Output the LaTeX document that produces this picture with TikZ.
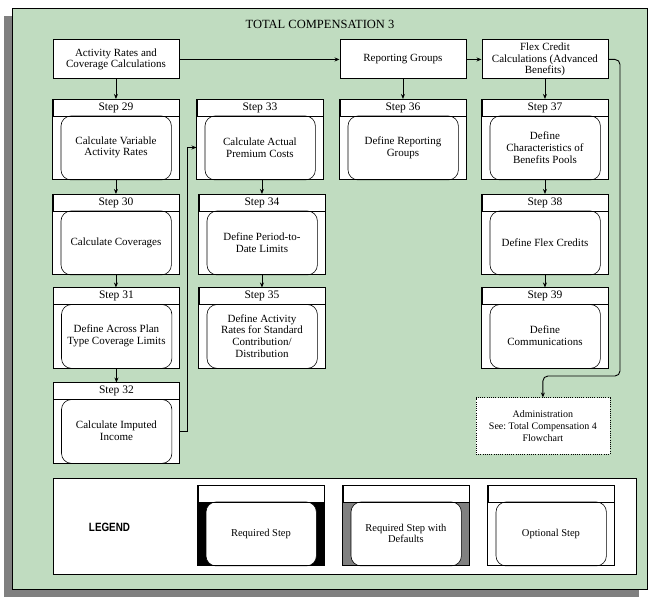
\documentclass[tikz,border=0pt]{standalone}
\usepackage{fontspec}
\setmainfont{Liberation Serif}
\newfontfamily\legendfont{Liberation Sans}
\usepackage{graphicx}
\usetikzlibrary{calc,arrows.meta}
\definecolor{bggreen}{RGB}{192,220,192}
\definecolor{shadowgray}{RGB}{128,128,128}
\tikzset{
  lw/.style={line width=0.9pt},
  topbox/.style={lw, draw=black, fill=white, inner sep=0pt, anchor=north west,
    minimum width=126pt, minimum height=39pt, align=center,
    font=\fontsize{11}{11.7}\selectfont},
  stepframe/.style={lw, draw=black, fill=white, inner sep=0pt, anchor=north west,
    minimum width=126pt, minimum height=80pt},
  txt/.style={font=\fontsize{11}{11.7}\selectfont, align=center, inner sep=0pt},
  legtxt/.style={font=\fontsize{10.5}{10.6}\selectfont, align=center, inner sep=0pt},
  hdr/.style={font=\fontsize{11.5}{12}\selectfont, inner sep=0pt},
  arr/.style={lw, -{Stealth[length=5pt,width=4pt]}},
}
% #1 name, #2 x, #3 y, #4 header, #5 text, #6 body fill, #7 text style
\newcommand\StepBox[7]{%
  \node[stepframe] (#1) at (#2,#3) {};
  \fill[#6] ($(#1.north west)+(0,17)$) rectangle (#1.south east);
  \draw[line width=0.6pt, fill=white, rounded corners=10pt]
    ($(#1.north west)+(8.5,17)$) rectangle ($(#1.south east)+(-8,0)$);
  \draw[lw] ($(#1.north west)+(0,17)$) -- ($(#1.north east)+(0,17)$);
  \draw[lw] (#1.north west) rectangle (#1.south east);
  \coordinate (#1b) at ($(#1.north)+(0,48.5)$);
  \node[hdr] (#1h) at ($(#1.north)+(0,8.5)$) {#4};
  \node[#7] (#1t) at (#1b) {#5};
}
\begin{document}
\begin{tikzpicture}[x=1pt,y=-1pt]
\useasboundingbox (0,0) rectangle (656,601);
% shadow and frame
\fill[shadowgray] (4,16) rectangle (639,597);
\draw[lw, fill=bggreen] (12,8) rectangle (647,589);
\node[font=\fontsize{12.5}{13}\selectfont, inner sep=0pt] (title) at (320,24) {TOTAL COMPENSATION 3};

% top row
\node[topbox] (act) at (52.5,39.5) {Activity Rates and\\Coverage Calculations};
\node[topbox] (rep) at (339.5,39.5) {Reporting Groups};
\node[topbox] (flex) at (481.5,39.5) {Flex Credit\\Calculations (Advanced\\Benefits)};

% steps
\StepBox{s29}{52.5}{99}{Step 29}{Calculate Variable\\Activity Rates}{white}{txt}
\StepBox{s30}{52.5}{194}{Step 30}{Calculate Coverages}{white}{txt}
\StepBox{s31}{53}{287.5}{Step 31}{Define Across Plan\\Type Coverage Limits}{white}{txt}
\StepBox{s32}{53}{382.5}{Step 32}{Calculate Imputed\\Income}{white}{txt}
\StepBox{s33}{196.5}{99}{Step 33}{Calculate Actual\\Premium Costs}{white}{txt}
\StepBox{s34}{198.5}{194}{Step 34}{Define Period-to-\\Date Limits}{white}{txt}
\StepBox{s35}{198.5}{287.5}{Step 35}{Define Activity\\Rates for Standard\\Contribution/\\Distribution}{white}{txt}
\StepBox{s36}{339.5}{99}{Step 36}{Define Reporting\\Groups}{white}{txt}
\StepBox{s37}{481.5}{99}{Step 37}{Define\\Characteristics of\\Benefits Pools}{white}{txt}
\StepBox{s38}{481.5}{194}{Step 38}{Define Flex Credits}{white}{txt}
\StepBox{s39}{481.5}{287.5}{Step 39}{Define\\Communications}{white}{txt}

% administration
\node[line width=0.8pt, draw=black, dash pattern=on 1pt off 1.2pt, fill=white,
  anchor=north west, minimum width=134pt, minimum height=56pt, inner sep=0pt,
  align=center, font=\fontsize{10}{11.7}\selectfont] (adm) at (475.5,397.5)
  {Administration\\See:\ Total Compensation 4\\Flowchart};

% connectors
\draw[arr] (act) -- (rep);
\draw[arr] (rep) -- (flex);
\draw[arr] (act) -- (s29);
\draw[arr] (s29.south) -- (s29.south |- s30.north);
\draw[arr] (s30.south) -- (s30.south |- s31.north);
\draw[arr] (s31.south) -- (s31.south |- s32.north);
\coordinate (j1) at (187,0);
\draw[arr] (s32.east |- s32b) -| (j1 |- s33b) -- (s33.west |- s33b);
\draw[arr] (s34.north |- s33.south) -- (s34.north);
\draw[arr] (s34.south) -- (s35.north);
\draw[arr] (rep) -- (s36);
\draw[arr] (flex) -- (s37);
\draw[arr] (s37) -- (s38);
\draw[arr] (s38) -- (s39);
\coordinate (j2) at (620,376);
\draw[arr, rounded corners=5pt] (flex.east) -| (j2) -| (adm.north);

% legend
\node[lw, draw=black, fill=white, anchor=north west, minimum width=583pt,
  minimum height=96pt, inner sep=0pt] (leg) at (52.5,477.5) {};
\node[inner sep=0pt, font=\legendfont\bfseries\fontsize{12}{12}\selectfont] (legend) at (109.5,527)
  {\scalebox{0.82}[1]{LEGEND}};
\StepBox{l1}{197.5}{485}{}{Required Step}{black}{legtxt}
\StepBox{l2}{342.5}{485}{}{Required Step with\\Defaults}{shadowgray}{legtxt}
\StepBox{l3}{487.5}{485}{}{Optional Step}{white}{legtxt}
\end{tikzpicture}
\end{document}
